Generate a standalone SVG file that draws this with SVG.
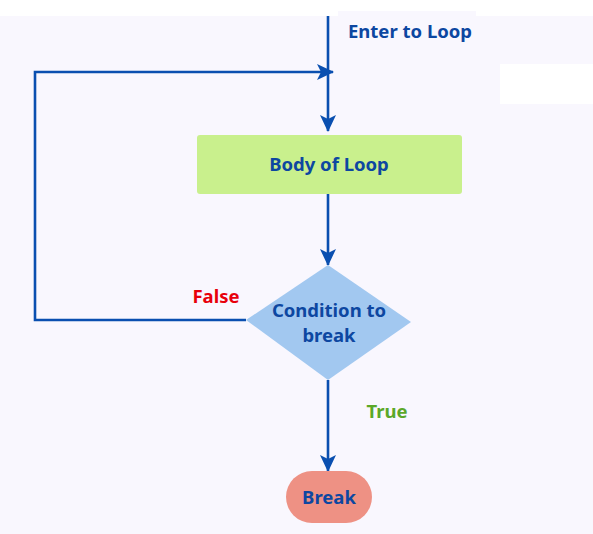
<svg xmlns="http://www.w3.org/2000/svg" width="593" height="534" viewBox="0 0 593 534">
<defs>
<style>
.lbl{font-family:"Noto Sans","DejaVu Sans",sans-serif;font-weight:bold;font-size:18.5px;text-anchor:middle}
.blue{fill:#0D47A1}
.conn{fill:none;stroke:#0A4FB0;stroke-width:2.6}
</style>
<marker id="arrL" markerWidth="18" markerHeight="18" refX="16" refY="9" orient="auto" markerUnits="userSpaceOnUse" viewBox="0 0 18 18">
<path d="M0,1 L17,9 L0,17 L4,9 Z" fill="#0A4FB0"/>
</marker>
</defs>
<rect x="0" y="0" width="593" height="534" fill="#ffffff"/>
<rect x="0" y="16" width="593" height="518" fill="#F9F7FE"/>
<rect x="338" y="11" width="138" height="6" fill="#F9F7FE"/>
<rect x="500" y="64" width="93" height="40" fill="#ffffff"/>
<g id="connectors">
<path class="conn" d="M328,16 V131" marker-end="url(#arrL)"/>
<path class="conn" d="M246,320 H35 V72 H333" marker-end="url(#arrL)"/>
<path class="conn" d="M328,194 V265" marker-end="url(#arrL)"/>
<path class="conn" d="M328,380 V471" marker-end="url(#arrL)"/>
</g>
<g id="enter-label"><text class="lbl blue" x="410" y="38" font-size="17.6">Enter to Loop</text></g>
<g id="body">
<rect x="197" y="135" width="265" height="59" rx="3" fill="#C9F08D"/>
<text class="lbl blue" x="329" y="171">Body of Loop</text>
</g>
<g id="condition">
<polygon points="328,265 411,322 328,380 246,320" fill="#A2C8F0"/>
<text class="lbl blue" x="329" y="317">Condition to</text>
<text class="lbl blue" x="329" y="342">break</text>
</g>
<g id="false-label"><text class="lbl" x="216" y="303" fill="#E8000B" font-size="16.5">False</text></g>
<g id="true-label"><text class="lbl" x="387" y="418" fill="#5BA829" font-size="16.5">True</text></g>
<g id="break">
<rect x="286" y="471" width="86" height="52" rx="26" fill="#EE9184"/>
<text class="lbl blue" x="329" y="504">Break</text>
</g>
</svg>
